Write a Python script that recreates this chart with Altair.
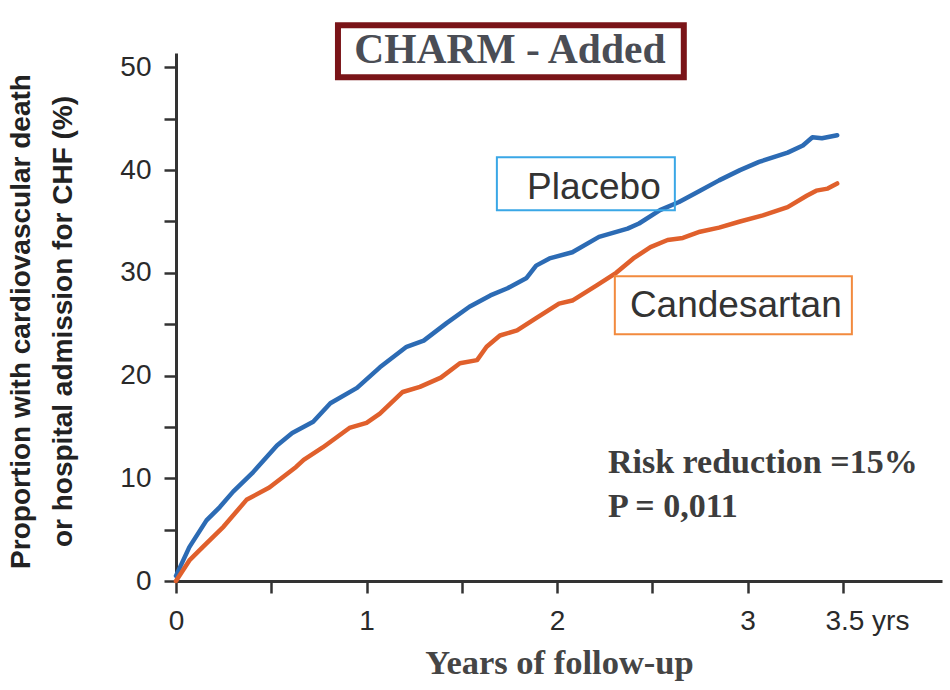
import altair as alt
import pandas as pd

# ---- data ----
series = ["Placebo", "Candesartan"]
series_colors = ["#2c6bb4", "#e0602c"]

placebo_years = [0, 0.07, 0.16, 0.23, 0.30, 0.40, 0.53, 0.61, 0.72, 0.81, 0.95, 1.07, 1.21, 1.30,
                 1.42, 1.54, 1.65, 1.74, 1.84, 1.89, 1.96, 2.08, 2.22, 2.37, 2.43, 2.54, 2.64,
                 2.75, 2.85, 2.96, 3.06, 3.21, 3.29, 3.34, 3.39, 3.47]
placebo_pct = [0.5, 3.3, 5.9, 7.2, 8.7, 10.5, 13.2, 14.4, 15.5, 17.3, 18.8, 20.8, 22.8, 23.4,
               25.1, 26.7, 27.8, 28.5, 29.5, 30.7, 31.4, 32.0, 33.5, 34.3, 34.8, 36.1, 36.9,
               38.0, 39.0, 40.0, 40.8, 41.7, 42.4, 43.2, 43.1, 43.4]

cand_years = [0, 0.07, 0.14, 0.25, 0.37, 0.49, 0.63, 0.67, 0.77, 0.91, 1.0, 1.07, 1.19, 1.28,
              1.39, 1.49, 1.58, 1.63, 1.70, 1.79, 1.89, 2.01, 2.08, 2.21, 2.31, 2.40, 2.49,
              2.58, 2.66, 2.75, 2.85, 2.96, 3.08, 3.21, 3.31, 3.36, 3.42, 3.47]
cand_pct = [0.0, 2.0, 3.3, 5.3, 7.9, 9.1, 11.1, 11.8, 13.0, 14.9, 15.4, 16.3, 18.4, 18.9,
            19.8, 21.2, 21.5, 22.8, 23.9, 24.4, 25.6, 27.0, 27.3, 28.8, 30.0, 31.4, 32.5,
            33.2, 33.4, 34.0, 34.4, 35.0, 35.6, 36.4, 37.5, 38.0, 38.2, 38.7]

x_tick_values = [0, 0.5, 1, 1.5, 2, 2.5, 3, 3.5]
y_tick_values = [0, 5, 10, 15, 20, 25, 30, 35, 40, 45, 50]

title_text = "CHARM - Added"
x_title = "Years of follow-up"
y_title = ["Proportion with cardiovascular death", "or hospital admission for CHF (%)"]
stats_lines = ["Risk reduction =15%", "P = 0,011"]

# ---- tables built from the arrays ----
df = pd.concat([
    pd.DataFrame({"years": placebo_years, "pct": placebo_pct, "group": series[0]}),
    pd.DataFrame({"years": cand_years, "pct": cand_pct, "group": series[1]}),
], ignore_index=True)

# annotation placement (data coordinates)
box_pos = {
    "title": dict(years=0.850, years2=2.665, pct=54.09, pct2=49.03),
    "Placebo": dict(years=1.684, years2=2.618, pct=41.25, pct2=36.09),
    "Candesartan": dict(years=2.303, years2=3.547, pct=29.67, pct2=24.03),
}
label_pos = {
    "Placebo": dict(years=2.193, pct=37.16),
    "Candesartan": dict(years=2.938, pct=25.68),
}

xs = alt.Scale(domain=[0, 4.02], nice=False, zero=False)
ys = alt.Scale(domain=[0, 51.4], nice=False, zero=False)

x_axis = alt.Axis(
    values=x_tick_values,
    labelExpr="datum.value == 3.5 ? '3.5 yrs' : (datum.value % 1 == 0 ? format(datum.value, 'd') : '')",
    labelOffset={"condition": {"test": "datum.value == 3.5", "value": 24}, "value": 0},
    title=x_title, titleFont="Liberation Serif", titleFontWeight="bold", titleFontSize=34.5,
    titleColor="#454545", titleBaseline="alphabetic", titleY=92, titleX=383,
    labelFont="Liberation Sans", labelFontSize=28, labelColor="#2a2a2a", labelPadding=14,
    tickSize=12, tickWidth=2.5, tickColor="#333333",
    domainColor="#333333", domainWidth=3, grid=False, labelFlush=False,
)
y_axis = alt.Axis(
    values=y_tick_values,
    labelExpr="datum.value % 10 == 0 ? format(datum.value, 'd') : ''",
    title=y_title, titleFont="Liberation Sans", titleFontWeight="bold", titleFontSize=28,
    titleColor="#222222", titleLineHeight=42, titleX=-141, titleY=268,
    labelFont="Liberation Sans", labelFontSize=28, labelColor="#2a2a2a", labelPadding=13,
    tickSize=12, tickWidth=2.5, tickColor="#333333",
    domainColor="#333333", domainWidth=3, grid=False,
)

X = lambda: alt.X("years:Q", scale=xs, axis=x_axis, title=x_title)
Y = lambda: alt.Y("pct:Q", scale=ys, axis=y_axis, title=y_title)

lines = alt.Chart(df).mark_line(strokeWidth=4.5, strokeJoin="round", strokeCap="round").encode(
    x=X(), y=Y(),
    color=alt.Color("group:N", scale=alt.Scale(domain=series, range=series_colors), legend=None),
)


def box(key, stroke, width, fill):
    d = pd.DataFrame([box_pos[key]])
    return alt.Chart(d).mark_rect(fill=fill, stroke=stroke, strokeWidth=width).encode(
        x=X(), x2="years2:Q", y=Y(), y2="pct2:Q",
    )


placebo_box = box("Placebo", "#3aa7e6", 2, "transparent")
cand_box = box("Candesartan", "#f28a3e", 2, "transparent")
title_box = box("title", "#7a1418", 6, "white")

series_labels = pd.DataFrame([dict(label_pos[s], t=s) for s in series])
label_text = alt.Chart(series_labels).mark_text(
    align="center", baseline="alphabetic", font="Liberation Sans", fontSize=37, color="#333333"
).encode(x=X(), y=Y(), text="t:N")

title_df = pd.DataFrame([dict(years=1.752, pct=50.39, t=title_text)])
title_mark = alt.Chart(title_df).mark_text(
    align="center", baseline="alphabetic", font="Liberation Serif", fontWeight="bold",
    fontSize=41.5, color="#4a4d55"
).encode(x=X(), y=Y(), text="t:N")

stats_df = pd.DataFrame({"years": [2.267, 2.267], "pct": [10.5, 6.23], "t": stats_lines})
stats_mark = alt.Chart(stats_df).mark_text(
    align="left", baseline="alphabetic", font="Liberation Serif", fontWeight="bold",
    fontSize=34, color="#3d3d3d"
).encode(x=X(), y=Y(), text="t:N")

chart = alt.layer(
    lines, placebo_box, cand_box, label_text, title_box, title_mark, stats_mark
).properties(
    width=766, height=528,
    padding={"left": 176, "top": 53, "right": 8, "bottom": 109},
    autosize=alt.AutoSizeParams(type="none"),
    background="white",
).configure_view(stroke=None)

chart.save("out.html", embed_options={"renderer": "svg", "actions": False})
